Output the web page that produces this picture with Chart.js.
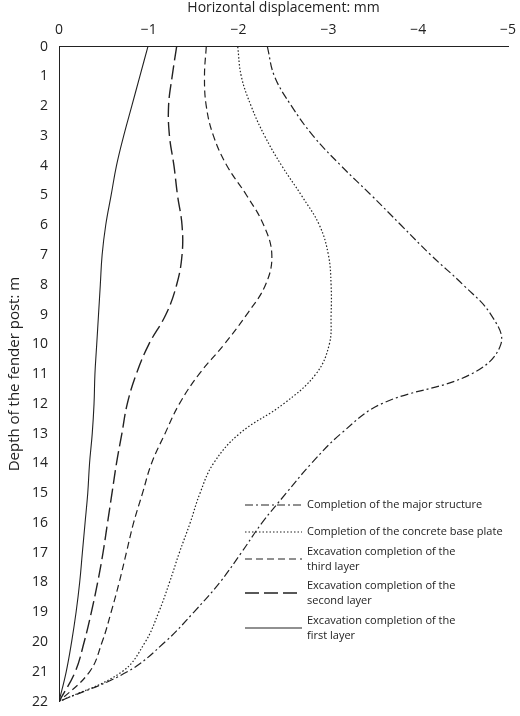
<!DOCTYPE html>
<html><head><meta charset="utf-8">
<script src="https://cdn.jsdelivr.net/npm/chart.js@4"></script>
<style>body{margin:0;background:#fff}#wrap{width:520px;height:716px}</style>
</head><body><div id="wrap"><canvas id="c"></canvas></div>
<script>
const depths = [0,1,2,3,4,5,6,7,8,9,10,11,12,13,14,15,16,17,18,19,20,21,22];
const majorStructure = [-2.32,-2.4,-2.59,-2.83,-3.14,-3.48,-3.81,-4.14,-4.5,-4.81,-4.92,-4.59,-3.59,-3.14,-2.81,-2.53,-2.26,-2.03,-1.79,-1.5,-1.18,-0.76,0];
const basePlate = [-1.99,-2.03,-2.14,-2.29,-2.48,-2.7,-2.9,-3.0,-3.03,-3.03,-3.01,-2.86,-2.5,-2.01,-1.72,-1.57,-1.46,-1.34,-1.23,-1.11,-0.96,-0.7,0];
const thirdLayer = [-1.64,-1.62,-1.64,-1.72,-1.87,-2.09,-2.28,-2.37,-2.3,-2.09,-1.84,-1.56,-1.34,-1.18,-1.03,-0.93,-0.83,-0.75,-0.67,-0.58,-0.48,-0.34,0];
const secondLayer = [-1.31,-1.26,-1.22,-1.23,-1.28,-1.32,-1.37,-1.37,-1.31,-1.19,-1.0,-0.86,-0.76,-0.7,-0.64,-0.59,-0.54,-0.49,-0.43,-0.36,-0.28,-0.18,0];
const firstLayer = [-0.99,-0.9,-0.81,-0.72,-0.64,-0.58,-0.52,-0.48,-0.46,-0.44,-0.42,-0.4,-0.39,-0.37,-0.34,-0.32,-0.29,-0.26,-0.23,-0.19,-0.14,-0.08,0];
const xTicks = [0,-1,-2,-3,-4,-5];

const pts = arr => arr.map((x,i)=>({x:x,y:depths[i]}));
const mk = (label,arr,dash,w) => ({label,data:pts(arr),borderColor:'#222',borderWidth:w||1.2,borderDash:dash,pointRadius:0,showLine:true,tension:0.4,fill:false});

const datasets = [
  mk('Completion of the major structure',majorStructure,[8,3,2,3]),
  mk('Completion of the concrete base plate',basePlate,[1.5,2]),
  mk('Excavation completion of the\nthird layer',thirdLayer,[7,4]),
  mk('Excavation completion of the\nsecond layer',secondLayer,[14,5],1.4),
  mk('Excavation completion of the\nfirst layer',firstLayer,[],1.1)
];

const legendPlugin = {
  id:'boxLegend',
  afterDraw(chart){
    const ctx = chart.ctx;
    const rows = [505,532,552,586,621];
    ctx.save();
    ctx.font = '11px "Open Sans"';
    ctx.fillStyle = '#222';
    ctx.textBaseline = 'middle';
    chart.data.datasets.forEach((ds,i)=>{
      const y = rows[i]+ (ds.label.includes('\n')?7:0);
      ctx.beginPath();
      ctx.setLineDash(ds.borderDash);
      ctx.lineWidth = ds.borderWidth;
      ctx.strokeStyle = '#222';
      ctx.moveTo(245,y); ctx.lineTo(302,y); ctx.stroke();
      ds.label.split('\n').forEach((t,j)=>ctx.fillText(t,307,rows[i]+j*15));
    });
    ctx.restore();
  }
};

new Chart(document.getElementById('c'),{
  type:'scatter',
  data:{datasets},
  options:{
    responsive:true,maintainAspectRatio:false,animation:false,
    layout:{padding:{left:6,right:12,bottom:8}},
    plugins:{legend:{display:false},tooltip:{enabled:false}},
    scales:{
      x:{type:'linear',position:'top',min:-5,max:0,reverse:true,
        afterBuildTicks:a=>{a.ticks=xTicks.map(v=>({value:v}));},
        ticks:{color:'#222',font:{size:14,family:'"Open Sans"'},callback:v=>v===0?'0':String(v).replace('-','\u2212')},
        grid:{display:false,drawTicks:true,tickLength:5,color:'#222'},
        border:{color:'#222'},
        title:{display:true,text:'Horizontal displacement: mm',color:'#222',font:{size:14,family:'"Open Sans"'},padding:{top:0,bottom:2}}},
      y:{type:'linear',min:0,max:22,reverse:true,
        ticks:{stepSize:1,color:'#222',font:{size:14,family:'"Open Sans"'},autoSkip:false,padding:6},
        grid:{display:false,tickLength:5,color:'#222'},
        border:{color:'#222'},
        title:{display:true,text:'Depth of the fender post: m',color:'#222',font:{size:15,family:'"Open Sans"'},padding:{top:0,bottom:2}}}
    }
  },
  plugins:[legendPlugin]
});
</script></body></html>
